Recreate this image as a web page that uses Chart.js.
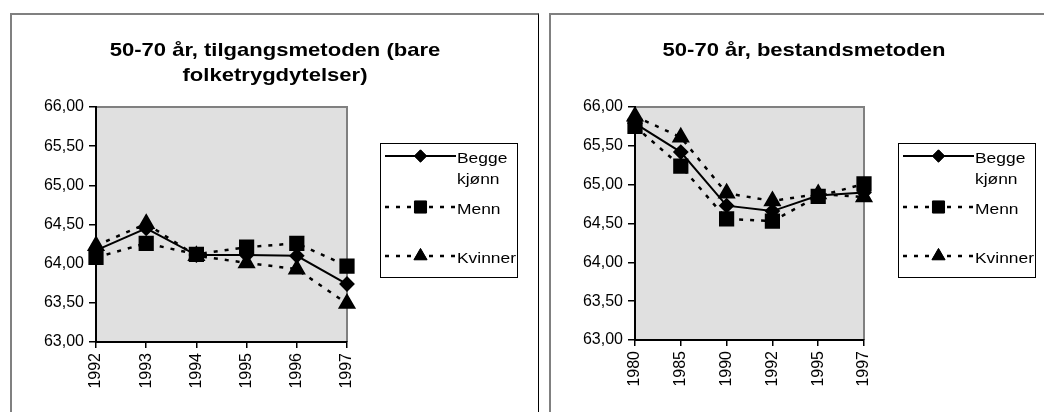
<!DOCTYPE html>
<html lang="no">
<head>
  <meta charset="UTF-8">
  <title>50-70 år</title>
  <script src="https://cdn.jsdelivr.net/npm/chart.js"></script>
  <style>
    body {
      margin: 0;
      background: #fff;
      font-family: Arial, "Liberation Sans", sans-serif;
    }
    .box {
      position: absolute;
      top: 13px;
      height: 420px;
      border-top: 2px solid #808080;
      border-left: 2px solid #808080;
      border-right: 1px solid #000;
      pointer-events: none;
    }
    canvas {
      position: absolute;
      top: 0;
    }
  </style>
</head>
<body>
  <canvas id="venstre" width="540" height="412" style="left:0"></canvas>
  <canvas id="hoyre" width="504" height="412" style="left:540px"></canvas>
  <div class="box" style="left:10px; width:526px"></div>
  <div class="box" style="left:549px; width:500px; border-right:none"></div>

  <script>
    // tilgangsmetoden (bare folketrygdytelser)
    const aarTilgang = ["1992", "1993", "1994", "1995", "1996", "1997"];
    const beggeTilgang = [64.17, 64.45, 64.11, 64.11, 64.10, 63.74];
    const mennTilgang = [64.08, 64.26, 64.12, 64.21, 64.26, 63.97];
    const kvinnerTilgang = [64.23, 64.51, 64.10, 64.01, 63.93, 63.49];

    // bestandsmetoden
    const aarBestand = ["1980", "1985", "1990", "1992", "1995", "1997"];
    const beggeBestand = [65.79, 65.42, 64.73, 64.66, 64.86, 64.90];
    const mennBestand = [65.75, 65.24, 64.56, 64.53, 64.85, 65.01];
    const kvinnerBestand = [65.88, 65.61, 64.89, 64.79, 64.88, 64.84];

    const yTicks = [63, 63.5, 64, 64.5, 65, 65.5, 66];

    const FONT = "Arial, 'Liberation Sans', sans-serif";
    const STREKK = 1.16; // teksten i originalen er litt bredere

    function serier(begge, menn, kvinner) {
      return [
        { label: ["Begge", "kjønn"], data: begge, borderColor: "#000", backgroundColor: "#000",
          borderWidth: 2, pointStyle: "rectRot", pointRadius: 6.5, borderDash: [] },
        { label: ["Menn"], data: menn, borderColor: "#000", backgroundColor: "#000",
          borderWidth: 2.5, pointStyle: "rect", pointRadius: 9, borderDash: [4, 7] },
        { label: ["Kvinner"], data: kvinner, borderColor: "#000", backgroundColor: "#000",
          borderWidth: 2.5, pointStyle: "triangle", pointRadius: 8, borderDash: [4, 7] }
      ];
    }

    function strekkTekst(ctx, t, x, y) {
      ctx.save();
      ctx.scale(STREKK, 1);
      ctx.fillText(t, x / STREKK, y);
      ctx.restore();
    }

    // bakgrunn, tittel og forklaring
    const tegnPlugin = {
      id: "tegn",
      beforeDraw(chart, args, opts) {
        const ctx = chart.ctx;
        const a = chart.chartArea;
        ctx.save();
        ctx.fillStyle = "#e0e0e0";
        ctx.fillRect(a.left, a.top, a.right - a.left, a.bottom - a.top);
        ctx.strokeStyle = "#808080";
        ctx.lineWidth = 2;
        ctx.beginPath();
        ctx.moveTo(a.left, a.top);
        ctx.lineTo(a.right, a.top);
        ctx.lineTo(a.right, a.bottom);
        ctx.stroke();
        ctx.restore();
      },
      afterDraw(chart, args, opts) {
        const ctx = chart.ctx;
        ctx.save();
        // tittel
        ctx.fillStyle = "#000";
        ctx.font = "bold 19px " + FONT;
        ctx.textAlign = "center";
        ctx.textBaseline = "alphabetic";
        opts.tittel.forEach((t, i) => strekkTekst(ctx, t, opts.tittelX, 56 + i * 25));

        // forklaring
        const L = opts.legend;
        ctx.strokeStyle = "#000";
        ctx.lineWidth = 1;
        ctx.strokeRect(L.x + 0.5, 143.5, L.w, 134);
        const rader = [156, 207, 256];
        ctx.font = "15px " + FONT;
        ctx.textAlign = "left";
        chart.data.datasets.forEach((ds, i) => {
          const y = rader[i];
          ctx.save();
          ctx.strokeStyle = ds.borderColor;
          ctx.lineWidth = ds.borderWidth;
          ctx.setLineDash(ds.borderDash);
          ctx.beginPath();
          ctx.moveTo(L.x + 5, y);
          ctx.lineTo(L.x + L.line, y);
          ctx.stroke();
          ctx.restore();
          Chart.helpers.drawPoint(ctx, { pointStyle: ds.pointStyle, radius: ds.pointRadius * 0.95, borderWidth: 1 },
            L.x + 5 + (L.line - 5) / 2, y);
          ctx.fillStyle = "#000";
          ctx.fill();
          ctx.textBaseline = "middle";
          ds.label.forEach((t, j) => strekkTekst(ctx, t, L.x + L.line + 1, y + 3 + j * 21));
        });
        ctx.restore();
      }
    };

    function lagGraf(id, aar, data, pad, tittel, tittelX, legend) {
      return new Chart(document.getElementById(id), {
        type: "line",
        data: { labels: aar, datasets: data },
        plugins: [tegnPlugin],
        options: {
          responsive: false,
          animation: false,
          layout: { padding: pad },
          elements: { line: { tension: 0 }, point: { borderWidth: 1 } },
          plugins: {
            legend: { display: false },
            title: { display: false },
            tooltip: { enabled: false },
            tegn: { tittel: tittel, tittelX: tittelX, legend: legend }
          },
          scales: {
            x: {
              offset: false,
              grid: { drawOnChartArea: false, tickLength: 6, color: "#000", lineWidth: 1.5 },
              border: { display: true, color: "#000", width: 2 },
              ticks: { color: "#000", font: { family: FONT, size: 16 }, padding: 5,
                minRotation: 90, maxRotation: 90, autoSkip: false },
              afterFit(s) { s.height = 50; }
            },
            y: {
              min: 63,
              max: 66,
              afterBuildTicks(s) { s.ticks = yTicks.map(v => ({ value: v })); },
              grid: { drawOnChartArea: false, tickLength: 7, color: "#000", lineWidth: 1.5 },
              border: { display: true, color: "#000", width: 2 },
              ticks: { color: "#000", font: { family: FONT, size: 16 }, padding: 5,
                callback: v => v.toFixed(2).replace(".", ",") },
              afterFit(s) { s.width = 64; }
            }
          }
        }
      });
    }

    lagGraf("venstre", aarTilgang, serier(beggeTilgang, mennTilgang, kvinnerTilgang),
      { left: 32, right: 193, top: 107, bottom: 20 },
      ["50-70 år, tilgangsmetoden (bare", "folketrygdytelser)"], 275,
      { x: 380, w: 137, line: 76 });

    lagGraf("hoyre", aarBestand, serier(beggeBestand, mennBestand, kvinnerBestand),
      { left: 31, right: 180, top: 107, bottom: 22 },
      ["50-70 år, bestandsmetoden"], 264,
      { x: 358, w: 137, line: 76 });
  </script>
</body>
</html>
